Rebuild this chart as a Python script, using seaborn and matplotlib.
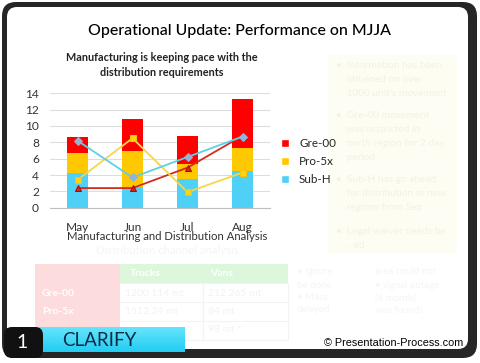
import numpy as np
import pandas as pd
import matplotlib
matplotlib.use('Agg')
import matplotlib.pyplot as plt
import seaborn as sns
from matplotlib.patches import FancyBboxPatch, Rectangle, Patch
from matplotlib.colors import LinearSegmentedColormap

# data
months = ['May', 'Jun', 'Jul', 'Aug']
sub_h = [4.3, 2.5, 3.5, 4.5]
pro_5x = [2.4, 4.5, 1.8, 2.8]
gre_00 = [2.0, 3.9, 3.5, 6.0]
line_gre = [2.4, 2.4, 4.9, 8.8]
line_pro = [3.4, 8.5, 1.9, 4.3]
line_sub = [8.2, 3.7, 6.2, 8.7]
series_names = ['Gre-00', 'Pro-5x', 'Sub-H']
yticks = [0, 2, 4, 6, 8, 10, 12, 14]

red, yellow, cyan = '#FF0000', '#FFC800', '#4FD0F6'

sns.set_theme(style='white')
plt.rcParams['font.family'] = ['Lato', 'DejaVu Sans']

fig = plt.figure(figsize=(4.8, 3.63), dpi=100)

# background axes in pixel coordinates (y down)
bg = fig.add_axes([0, 0, 1, 1])
bg.set_xlim(0, 480)
bg.set_ylim(363, 0)
bg.axis('off')

# slide frame
bg.add_patch(FancyBboxPatch((2, 2), 475, 356, boxstyle='round,pad=0,rounding_size=14',
                            fc='#262626', ec='none'))
bg.add_patch(FancyBboxPatch((7, 7), 461, 342, boxstyle='round,pad=0,rounding_size=10',
                            fc='white', ec='none'))

bg.text(240, 31, 'Operational Update: Performance on MJJA', ha='center', va='center',
        fontsize=11.4, color='black', fontweight='medium')
bg.text(162, 65, 'Manufacturing is keeping pace with the\ndistribution requirements',
        ha='center', va='center', fontsize=7.8, fontweight='bold', color='#222222',
        linespacing=1.45)
bg.text(167, 237, 'Manufacturing and Distribution Analysis', ha='center', va='center',
        fontsize=8.2, color='#333333')
bg.text(167, 251, 'Distribution channel analysis', ha='center', va='center',
        fontsize=8.2, color='#F5F5F5')

# faded notes box on the right
bg.add_patch(Rectangle((328, 55), 129, 198, fc='#FEFDF4', ec='none'))
notes = [(66, '•  Information has been'), (80, '    obtained on over'), (93, '    1000 unit\'s movement'),
         (115, '•  Gre-00 movement'), (129, '    was restricted in'), (143, '    north region for 2 day'),
         (157, '    period'), (180, '•  Sub-H has go ahead'), (194, '    for distribution in new'),
         (208, '    regions from Sep'), (232, '•  Legal waiver needs be'), (245, '    ...ed')]
for y, t in notes:
    bg.text(336, y, t, ha='left', va='center', fontsize=7.3, color='#F4F2E3')

# faded table
bg.add_patch(Rectangle((35, 264), 85, 76, fc='#FCDCDC', ec='none'))
bg.add_patch(Rectangle((120, 264), 168, 19, fc='#DDF7DD', ec='none'))
for yy in [283, 302, 321, 340]:
    bg.plot([120, 288], [yy, yy], color='#F3F3F3', lw=0.8)
for xx in [203, 288]:
    bg.plot([xx, xx], [283, 340], color='#F3F3F3', lw=0.8)
bg.text(130, 273, 'Trucks', fontsize=7.5, color='white', fontweight='bold', va='center')
bg.text(210, 273, 'Vans', fontsize=7.5, color='white', fontweight='bold', va='center')
bg.text(42, 293, 'Gre-00', fontsize=7.5, color='white', fontweight='bold', va='center')
bg.text(42, 311, 'Pro-5x', fontsize=7.5, color='white', fontweight='bold', va='center')
for x, y, t in [(125, 293, '1200.114 mt'), (208, 293, '212.265 mt'), (125, 311, '1512.34 mt'),
                (208, 311, '84 mt'), (208, 330, '98 mt *')]:
    bg.text(x, y, t, fontsize=7.5, color='#F3F3F3', va='center')
for x, y, t in [(297, 272, '• Ignore'), (297, 285, 'be done'), (297, 298, '• Mass'), (297, 310, 'delayed'),
                (375, 272, 'area could not'), (375, 285, '• signal outage'), (375, 298, '(6 month)'),
                (375, 310, 'was found)')]:
    bg.text(x, y, t, fontsize=7, color='#F5F5F5', va='center')

# CLARIFY banner
grad = np.linspace(0, 1, 50).reshape(-1, 1)
cmap = LinearSegmentedColormap.from_list('ban', ['#66E4FC', '#22CDF3'])
bg.imshow(grad, extent=(36, 185, 352, 327), cmap=cmap, aspect='auto', zorder=2)
bg.add_patch(FancyBboxPatch((4, 327), 39, 31, boxstyle='round,pad=0,rounding_size=8',
                            fc='#111111', ec='none', zorder=3))
bg.text(22, 342, '1', ha='center', va='center', fontsize=14, color='white', zorder=4)
bg.text(62, 341, 'CLARIFY', ha='left', va='center', fontsize=13.5, color='#0B2B45', zorder=4)
bg.text(463, 343, '\u00a9 Presentation-Process.com', ha='right', va='center', fontsize=7.8,
        color='black', family=['Liberation Sans', 'DejaVu Sans'])
bg.set_xlim(0, 480)
bg.set_ylim(363, 0)

# chart
ax = fig.add_axes([50 / 480, (363 - 207.7) / 363, 220 / 480, 114.4 / 363])
ax.set_facecolor('none')
df = pd.DataFrame({'month': months, 'sub': sub_h, 'pro': pro_5x, 'gre': gre_00})
df['mid'] = df['sub'] + df['pro']
df['top'] = df['mid'] + df['gre']

for col, c in [('top', red), ('mid', yellow), ('sub', cyan)]:
    sns.barplot(data=df, x='month', y=col, color=c, width=0.39, saturation=1,
                linewidth=0, ax=ax, zorder=2)

xs = np.arange(len(months))
sns.lineplot(x=xs, y=line_gre, color='#D42A1E', marker='^', markersize=5, markeredgecolor='#C00000',
             linewidth=1.3, ax=ax, zorder=3)
sns.lineplot(x=xs, y=line_pro, color='#F5D64A', marker='s', markersize=4.5, markeredgecolor='#F2C700',
             markerfacecolor='#FFD21A', linewidth=1.3, ax=ax, zorder=3)
sns.lineplot(x=xs, y=line_sub, color='#5CD0E6', marker='D', markersize=4, markeredgecolor='#93B3D8',
             markerfacecolor='#93B3D8', linewidth=1.3, ax=ax, zorder=3)

ax.set_xlim(-0.5, 3.5)
ax.set_ylim(0, 14)
ax.set_yticks(yticks)
ax.set_xticks(xs)
ax.set_xticklabels(months)
ax.set_xticks(np.arange(-0.5, 4, 1), minor=True)
ax.tick_params(axis='x', which='major', length=0, pad=10, labelsize=8.6, labelcolor='#333333')
ax.tick_params(axis='x', which='minor', length=4, width=0.8, color='#BFBFBF', direction='out')
ax.tick_params(axis='y', length=0, pad=8, labelsize=8.6, labelcolor='#333333')
ax.grid(axis='y', color='#DDDDDD', linewidth=0.8, zorder=0)
ax.set_axisbelow(True)
for s in ['top', 'right', 'left']:
    ax.spines[s].set_visible(False)
ax.spines['bottom'].set_color('#BFBFBF')
ax.spines['bottom'].set_linewidth(0.8)
ax.set_xlabel('')
ax.set_ylabel('')

handles = [Patch(fc=red), Patch(fc=yellow), Patch(fc=cyan)]
ax.legend(handles, series_names, loc='center left', bbox_to_anchor=(281 / 480, 1 - 161.5 / 363),
          bbox_transform=fig.transFigure, frameon=False, fontsize=8.4, handlelength=0.65,
          handleheight=0.65, handletextpad=0.9, labelspacing=0.62, borderpad=0, borderaxespad=0)

fig.savefig('out.png', dpi=100)
